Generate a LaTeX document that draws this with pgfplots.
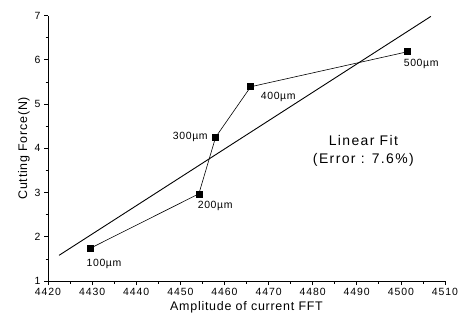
\documentclass[border=0pt]{standalone}
\usepackage{pgfplots}
\pgfplotsset{compat=1.18}
\usepackage{fontspec}
\setmainfont{Liberation Sans}
\newfontfamily\lspa[LetterSpace=6]{Liberation Sans}
\newfontfamily\lspt[LetterSpace=9]{Liberation Sans}
\newfontfamily\lspb[LetterSpace=10]{Liberation Sans}
\begin{document}
\begin{tikzpicture}[x=1bp,y=1bp]
\useasboundingbox (-48,-41) rectangle (414,267.5+13.5);
\begin{axis}[
  at={(0,0)}, anchor=south west,
  scale only axis, width=397bp, height=265.5bp,
  xmin=4420, xmax=4510, ymin=1, ymax=7,
  axis x line=bottom, axis y line=left,
  axis line style={-, line width=0.9pt},
  xtick={4420,4430,...,4510}, ytick={1,2,...,7},
  minor x tick num=1, minor y tick num=1,
  tick align=outside,
  major tick length=4bp, minor tick length=2.5bp,
  tick style={line width=0.7pt, black},
  /pgf/number format/assume math mode=true,
  /pgf/number format/set thousands separator={},
  tick label style={font=\lspt\fontsize{10.5}{12}\selectfont},
  xlabel={Amplitude of current FFT},
  ylabel={Cutting Force(N)},
  label style={font=\lspa\fontsize{12.5}{14}\selectfont},
  xlabel style={yshift=1bp},
  ylabel style={yshift=-2bp},
  clip=false,
]
\addplot[black, line width=0.6pt, mark=square*, mark size=3bp, mark options={solid}]
  coordinates {(4429.5,1.735) (4454.2,2.97) (4458.0,4.25) (4465.95,5.39) (4501.45,6.18)};
\addplot[black, line width=0.9pt, no marks]
  coordinates {(4422.5,1.58) (4506.8,6.98)};
\node[font=\lspa\fontsize{10.5}{12}\selectfont] at (axis cs:4432.7,1.38) {100µm};
\node[font=\lspa\fontsize{10.5}{12}\selectfont] at (axis cs:4457.9,2.69) {200µm};
\node[font=\lspa\fontsize{10.5}{12}\selectfont, anchor=east] at (axis cs:4457.0,4.26) {300µm};
\node[font=\lspa\fontsize{10.5}{12}\selectfont] at (axis cs:4472.2,5.16) {400µm};
\node[font=\lspa\fontsize{10.5}{12}\selectfont] at (axis cs:4504.6,5.90) {500µm};
\node[font=\lspb\fontsize{14}{16}\selectfont, align=center, inner sep=0pt] at (axis cs:4491.5,3.93) {Linear Fit\\[2pt](Error : 7.6\%)};
\end{axis}
\end{tikzpicture}
\end{document}
